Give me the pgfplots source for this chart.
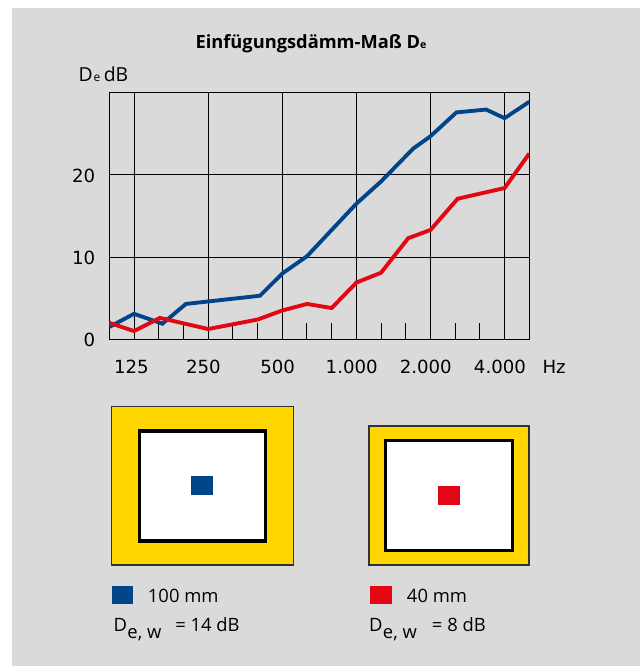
\documentclass[border=0pt]{standalone}
\usepackage{pgfplots}
\pgfplotsset{compat=1.18}
\usepackage{fontspec}
\setmainfont{Open Sans}
\newfontfamily\tickfont{DejaVu Sans}
\definecolor{bg}{RGB}{218,218,218}
\definecolor{cblue}{RGB}{0,68,138}
\definecolor{cred}{RGB}{227,6,19}
\definecolor{cyellow}{RGB}{255,214,0}
\begin{document}
\begin{tikzpicture}
\begin{scope}[x=0.75pt,y=0.75pt]
\fill[white] (0,0) rectangle (640,666);
\fill[bg] (12,0) rectangle (640,658);
\end{scope}
\begin{axis}[
  at={(81.975pt,245.025pt)}, anchor=south west,
  width=315pt, height=184.95pt, scale only axis,
  xmin=0, xmax=17, ymin=0, ymax=30,
  axis line style={black, line width=0.9pt},
  xtick={1,4,7,10,13,16},
  xticklabels={\hspace*{3pt}125,250,500,1.000,2.000,4.000},
  minor xtick={2,3,5,6,8,9,11,12,14,15},
  ytick={0,10,20},
  xmajorgrids, ymajorgrids,
  major grid style={black, line width=0.75pt},
  tick align=inside, xtick pos=bottom, ytick pos=left,
  major tick length=0pt, minor tick length=12pt,
  every tick/.style={black, line width=0.75pt},
  /pgf/number format/assume math mode=true,
  tick label style={font=\tickfont\fontsize{13.6}{15}\selectfont},
  xticklabel style={anchor=base, yshift=-26pt, xshift=-3.5pt},
  yticklabel style={anchor=east, xshift=-7pt, yshift=-0.8pt},
]
\addplot[cblue, line width=2.9pt] coordinates {
 (0,1.5) (1,3.1) (2.15,1.9) (3.1,4.3) (4,4.6) (6.1,5.3) (7,8.0) (8,10.1)
 (10,16.5) (11,19.2) (12.3,23.2) (13,24.7) (14.05,27.6) (15.25,27.95) (16,26.9) (17,28.9)
};
\addplot[cred, line width=2.9pt] coordinates {
 (0,2.0) (1,1.0) (2.05,2.6) (4,1.25) (6,2.4) (7,3.5) (8,4.3) (9,3.8)
 (10,6.9) (11,8.1) (12.1,12.3) (13,13.3) (14.1,17.1) (16,18.4) (17,22.6)
};
\end{axis}
\begin{scope}[x=0.75pt,y=0.75pt]
% title and axis labels
\node[anchor=base, font=\bfseries\fontsize{13.7}{15}\selectfont] at (311,617.7)
  {Einfügungsdämm-Maß D{\fontsize{8}{8}\selectfont e}};
\node[anchor=base west, inner sep=0pt, font=\fontsize{14.5}{15}\selectfont] at (78.3,584.3)
  {D\kern0.8pt{\fontsize{9}{10}\selectfont e}\kern2.5pt dB};
\node[anchor=base west, inner sep=0pt, font=\tickfont\fontsize{13.6}{15}\selectfont] at (542.3,292) {Hz};
% left cross-section
\filldraw[fill=cyellow, draw=black!80, line width=1.1pt] (111.7,101) rectangle (293.3,259.3);
\filldraw[fill=white, draw=black, line width=2.5pt] (139.3,125) rectangle (265.7,235);
\fill[cblue] (191,171) rectangle (213,190);
% right cross-section
\filldraw[fill=cyellow, draw=black!80, line width=1.1pt] (369,101) rectangle (529,240);
\filldraw[fill=white, draw=black, line width=2.5pt] (385.7,115.3) rectangle (512.3,225.3);
\fill[cred] (438,161) rectangle (460,180);
% legend
\fill[cblue] (112.3,61.7) rectangle (133.3,80);
\fill[cred] (370,61.7) rectangle (391.7,80);
\begin{scope}[every node/.style={anchor=base west, inner sep=0pt, font=\fontsize{13.8}{15}\selectfont}]
\node at (147.7,63.7) {100 mm};
\node at (406.7,63.7) {40 mm};
\node at (113.3,34.3) {D};
\node at (127.2,27.6) {e, w};
\node at (175,34.3) {= 14 dB};
\node at (368.8,34.3) {D};
\node at (382.7,27.6) {e, w};
\node at (431.7,34.3) {= 8 dB};
\end{scope}
\end{scope}
\end{tikzpicture}
\end{document}
